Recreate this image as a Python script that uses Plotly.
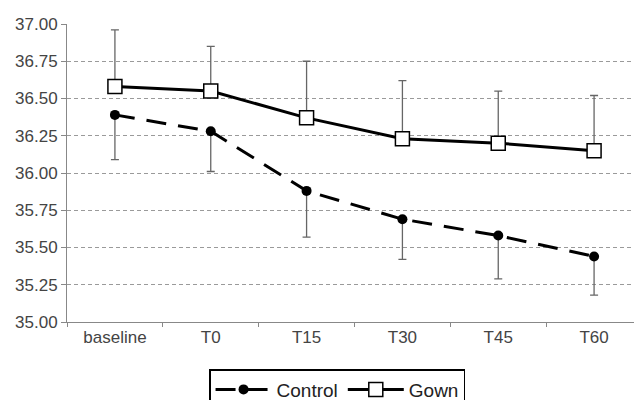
import plotly.graph_objects as go

categories = ["baseline", "T0", "T15", "T30", "T45", "T60"]
control_mean = [36.39, 36.28, 35.88, 35.69, 35.58, 35.44]
control_err_down = [0.30, 0.27, 0.31, 0.27, 0.29, 0.26]
gown_mean = [36.58, 36.55, 36.37, 36.23, 36.20, 36.15]
gown_err_up = [0.38, 0.30, 0.38, 0.39, 0.35, 0.37]
y_ticks = [35.00, 35.25, 35.50, 35.75, 36.00, 36.25, 36.50, 36.75, 37.00]

# page body has an 8px margin, so the figure is sized to the visible area
W, H = 634, 392
ML, MR, MT, MB = 59, 0, 16, 78

fig = go.Figure()
fig.add_trace(go.Scatter(
    x=categories, y=control_mean, name="Control", mode="lines+markers",
    line=dict(color="black", width=3, dash="20px,12px"),
    marker=dict(symbol="circle", size=10, color="black"),
    error_y=dict(type="data", symmetric=False, array=[0]*6, arrayminus=control_err_down,
                 color="#666666", thickness=1.3, width=4),
))
fig.add_trace(go.Scatter(
    x=categories, y=gown_mean, name="Gown", mode="lines+markers",
    line=dict(color="black", width=3),
    marker=dict(symbol="square", size=14, color="white", line=dict(color="black", width=1.5)),
    error_y=dict(type="data", symmetric=False, array=gown_err_up, arrayminus=[0]*6,
                 color="#666666", thickness=1.3, width=4),
))

fig.update_layout(
    width=W, height=H,
    margin=dict(l=ML, r=MR, t=MT, b=MB, autoexpand=False),
    plot_bgcolor="white", paper_bgcolor="white",
    font=dict(family="Liberation Sans, Arial, sans-serif", size=17, color="#444444"),
    showlegend=True,
    legend=dict(orientation="h", xref="container", yref="container",
                x=0.519, xanchor="center", y=0.079, yanchor="top",
                bordercolor="black", borderwidth=1.5, bgcolor="white",
                font=dict(size=19, color="#222222"), itemwidth=56,
                tracegroupgap=0),
)
fig.update_xaxes(
    type="category", range=[-0.5, 5.5], showgrid=False, automargin=False,
    showline=True, linecolor="#888888", linewidth=1,
    ticks="outside", tickson="boundaries", ticklen=4, tickcolor="#888888",
    tickfont=dict(size=17, color="#444444"),
)
fig.update_yaxes(
    range=[35.0, 37.0], tickvals=y_ticks, ticktext=[f"{v:.2f}" for v in y_ticks],
    showgrid=True, gridcolor="#9a9a9a", griddash="4px,3px", gridwidth=1, automargin=False,
    showline=True, linecolor="#888888", linewidth=1, zeroline=False,
    ticks="outside", ticklen=5, tickcolor="#888888",
    tickfont=dict(size=17, color="#444444"),
)
fig.write_html("out.html")
